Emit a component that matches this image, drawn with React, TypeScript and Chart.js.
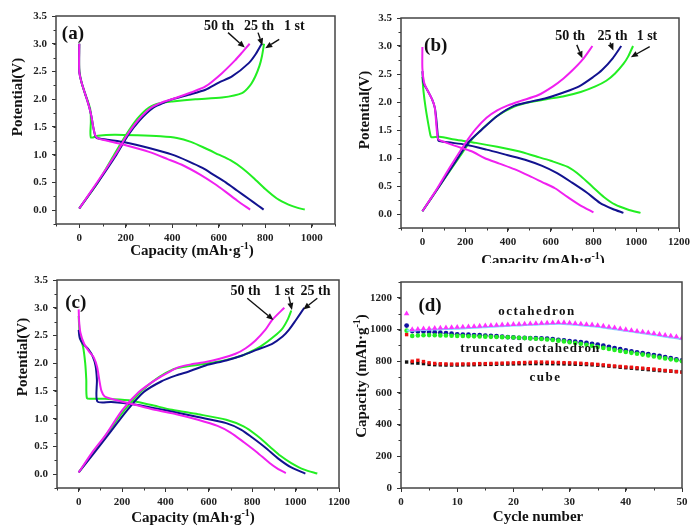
import React, { useEffect, useRef } from "react";
import { Chart, registerables } from "chart.js";
Chart.register(...registerables);

// ---------- colours ----------
const GREEN = "#22ee22";
const BLUE = "#12128f";
const MAGENTA = "#f020f0";

// ---------- panel (a) data: [capacity, potential] ----------
const aDis50 = [[0,3.0],[0,2.5],[10,2.3],[25,2.1],[40,1.9],[52,1.7],[60,1.5],[68,1.36],[78,1.3],[120,1.25],[200,1.17],[300,1.05],[380,0.92],[450,0.8],[520,0.64],[580,0.48],[630,0.33],[680,0.17],[735,0.01]];
const aDis25 = [[0,3.0],[0,2.5],[10,2.3],[25,2.1],[40,1.9],[52,1.7],[60,1.5],[68,1.35],[75,1.3],[120,1.27],[200,1.22],[300,1.12],[400,1.0],[470,0.88],[530,0.76],[580,0.63],[630,0.5],[680,0.35],[730,0.2],[770,0.08],[793,0.01]];
const aDis1 = [[0,3.0],[0,2.55],[10,2.3],[25,2.1],[38,1.95],[48,1.8],[50,1.6],[50,1.31],[80,1.34],[150,1.36],[250,1.35],[350,1.33],[420,1.3],[480,1.23],[540,1.12],[600,1.0],[650,0.9],[700,0.76],[750,0.58],[800,0.38],[850,0.21],[900,0.1],[940,0.04],[970,0.01]];
const aCha50 = [[0,0.03],[80,0.52],[160,1.03],[205,1.35],[255,1.63],[310,1.85],[360,1.95],[420,2.03],[480,2.12],[543,2.23],[614,2.47],[670,2.7],[700,2.84],[733,3.0]];
const aCha25 = [[0,0.03],[80,0.5],[160,1.0],[210,1.35],[260,1.62],[320,1.85],[370,1.95],[400,2.0],[470,2.08],[543,2.17],[600,2.3],[657,2.41],[729,2.65],[760,2.82],[785,3.0]];
const aCha1 = [[0,0.03],[80,0.5],[150,1.0],[200,1.35],[250,1.65],[300,1.85],[350,1.93],[400,1.96],[500,2.0],[614,2.03],[700,2.11],[735,2.25],[757,2.41],[775,2.6],[786,2.78],[795,3.0]];

// ---------- panel (b) data ----------
const bDis50 = [[0,2.98],[0,2.6],[8,2.35],[25,2.2],[45,2.05],[58,1.9],[65,1.6],[72,1.35],[80,1.32],[150,1.22],[230,1.12],[290,1.0],[360,0.9],[430,0.8],[500,0.68],[560,0.57],[620,0.46],[680,0.3],[740,0.15],[800,0.03]];
const bDis25 = [[0,2.55],[5,2.35],[25,2.2],[45,2.05],[58,1.9],[65,1.7],[72,1.4],[75,1.31],[120,1.28],[200,1.24],[300,1.15],[400,1.05],[480,0.97],[560,0.86],[630,0.73],[700,0.56],[770,0.38],[830,0.2],[890,0.09],[940,0.02]];
const bDis1 = [[0,2.45],[5,2.2],[15,1.9],[28,1.6],[38,1.4],[42,1.37],[80,1.38],[150,1.33],[250,1.27],[350,1.2],[450,1.12],[530,1.03],[600,0.95],[680,0.84],[740,0.68],[800,0.47],[850,0.3],[900,0.17],[960,0.08],[1020,0.02]];
const bCha50 = [[0,0.05],[60,0.4],[123,0.8],[200,1.26],[250,1.52],[300,1.72],[350,1.85],[400,1.94],[460,2.02],[540,2.12],[611,2.28],[660,2.42],[703,2.57],[750,2.76],[795,3.0]];
const bCha25 = [[0,0.05],[80,0.5],[169,1.02],[220,1.3],[276,1.5],[350,1.75],[428,1.93],[500,2.0],[581,2.07],[660,2.17],[733,2.28],[800,2.45],[840,2.57],[890,2.78],[930,3.0]];
const bCha1 = [[0,0.05],[80,0.5],[170,1.0],[225,1.3],[280,1.52],[350,1.75],[430,1.92],[505,2.0],[580,2.05],[657,2.1],[740,2.18],[809,2.28],[860,2.38],[901,2.51],[940,2.68],[962,2.81],[985,3.0]];

// ---------- panel (c) data ----------
const cDis50 = [[0,2.97],[2,2.75],[8,2.55],[25,2.35],[50,2.2],[70,2.1],[85,1.93],[95,1.7],[105,1.5],[120,1.4],[150,1.36],[250,1.26],[350,1.16],[450,1.08],[550,0.98],[640,0.87],[700,0.75],[760,0.58],[820,0.4],[880,0.2],[920,0.09],[955,0.02]];
const cDis25 = [[0,2.6],[5,2.45],[20,2.35],[45,2.25],[65,2.12],[78,1.95],[84,1.7],[86,1.31],[150,1.3],[250,1.26],[350,1.19],[450,1.11],[550,1.03],[680,0.92],[750,0.8],[800,0.66],[860,0.48],[920,0.28],[980,0.12],[1045,0.01]];
const cDis1 = [[0,2.85],[3,2.6],[8,2.45],[20,2.3],[30,2.0],[35,1.7],[38,1.37],[60,1.36],[120,1.36],[230,1.33],[330,1.25],[430,1.16],[550,1.08],[680,0.98],[760,0.86],[820,0.7],[880,0.5],[930,0.33],[980,0.2],[1040,0.08],[1100,0.01]];
const cCha50 = [[0,0.03],[60,0.38],[123,0.7],[200,1.15],[277,1.48],[354,1.7],[420,1.85],[462,1.93],[520,1.98],[585,2.02],[650,2.08],[723,2.17],[770,2.27],[815,2.41],[860,2.6],[892,2.78],[948,3.0]];
const cCha25 = [[0,0.03],[75,0.4],[150,0.78],[225,1.16],[300,1.48],[380,1.67],[450,1.78],[508,1.85],[585,1.96],[680,2.05],[754,2.14],[820,2.24],[892,2.35],[940,2.48],[969,2.6],[1000,2.77],[1040,3.0]];
const cCha1 = [[0,0.03],[70,0.4],[140,0.78],[210,1.15],[290,1.5],[370,1.75],[430,1.88],[480,1.93],[585,1.99],[680,2.06],[754,2.14],[800,2.22],[846,2.32],[900,2.48],[938,2.62],[965,2.8],[980,2.95]];

// ---------- panel (d) data ----------
const cycleNumbers = [1,2,3,4,5,6,7,8,9,10,11,12,13,14,15,16,17,18,19,20,21,22,23,24,25,26,27,28,29,30,31,32,33,34,35,36,37,38,39,40,41,42,43,44,45,46,47,48,49,50];
const octaTriangles = [1100,1000,1002,1005,1005,1008,1010,1012,1013,1015,1016,1018,1020,1022,1024,1026,1028,1030,1031,1033,1034,1036,1037,1038,1040,1042,1043,1045,1044,1042,1038,1035,1032,1030,1026,1022,1017,1012,1006,1000,995,990,985,980,975,970,965,960,955,948];
const octaLine = [995,992,995,997,999,1000,1002,1003,1004,1005,1007,1009,1011,1013,1015,1017,1019,1021,1023,1025,1026,1028,1030,1031,1033,1034,1035,1036,1035,1033,1030,1027,1024,1020,1017,1012,1007,1002,997,992,987,982,977,972,966,961,955,950,945,938];
const truncBlue = [1025,990,988,987,985,983,980,977,974,970,968,967,965,964,962,960,958,955,952,950,948,947,946,945,944,942,939,935,931,927,923,920,915,910,905,898,890,883,876,868,862,856,851,845,839,833,826,819,812,806];
const truncGreen = [993,960,962,964,965,964,963,962,961,960,959,958,957,956,955,954,953,952,951,950,948,946,944,942,940,937,934,930,925,920,915,910,904,897,890,884,877,871,865,858,853,847,842,836,830,824,818,812,806,800];
const cubeRed = [968,800,806,798,790,786,784,783,782,782,783,783,784,785,785,786,787,788,789,790,791,792,793,795,795,794,793,792,791,790,789,787,785,783,780,777,773,770,767,764,762,759,756,753,750,746,742,738,734,730];
const cubeBlack = [795,790,788,785,780,778,777,776,776,776,777,777,778,779,780,780,781,782,782,783,784,784,785,785,785,785,784,784,783,782,781,780,779,777,775,772,769,766,762,759,756,753,750,747,744,741,739,737,735,733];

// ---------- tick labels ----------
const potentialTicks = [0, 0.5, 1.0, 1.5, 2.0, 2.5, 3.0, 3.5];
const capTicksA = [0, 200, 400, 600, 800, 1000];
const capTicksBC = [0, 200, 400, 600, 800, 1000, 1200];
const cycleTicks = [0, 10, 20, 30, 40, 50];
const capacityTicksD = [0, 200, 400, 600, 800, 1000, 1200];

const FONT = "'Liberation Serif', 'Times New Roman', serif";

const toXY = (arr: number[][]) => arr.map(([x, y]) => ({ x, y }));
const cyc = (vals: number[]) => vals.map((v, i) => ({ x: cycleNumbers[i], y: v }));

const curve = (data: number[][], color: string) => ({
  data: toXY(data),
  showLine: true,
  borderColor: color,
  backgroundColor: color,
  borderWidth: 2,
  pointRadius: 0,
  tension: 0.25,
});

const decorPlugin = {
  id: "decor",
  beforeDraw(chart: any, _args: any, opts: any) {
    if (opts.cover) {
      const ctx = chart.ctx;
      const [x, y, w, h] = opts.cover;
      ctx.save();
      ctx.fillStyle = "#fff";
      ctx.fillRect(x, y, w, h);
      ctx.restore();
    }
  },
  afterDraw(chart: any, _args: any, opts: any) {
    const ctx = chart.ctx;
    const { left, top, right, bottom } = chart.chartArea;
    const xs = chart.scales.x;
    const ys = chart.scales.y;
    ctx.save();
    // minor ticks
    ctx.strokeStyle = "#333";
    ctx.lineWidth = 1;
    const mx = opts.xMinor;
    for (let v = xs.min; v <= xs.max + 1e-9; v += mx) {
      const p = Math.round(xs.getPixelForValue(v)) + 0.5;
      ctx.beginPath();
      ctx.moveTo(p, bottom);
      ctx.lineTo(p, bottom + 2.5);
      ctx.stroke();
    }
    const my = opts.yMinor;
    const y0 = Math.ceil(ys.min / my) * my;
    for (let v = y0; v <= ys.max + 1e-9; v += my) {
      const p = Math.round(ys.getPixelForValue(v)) + 0.5;
      ctx.beginPath();
      ctx.moveTo(left, p);
      ctx.lineTo(left - 2.5, p);
      ctx.stroke();
    }
    // frame
    ctx.strokeStyle = "#444";
    ctx.lineWidth = 1.5;
    ctx.strokeRect(left, top, right - left, bottom - top);

    // text annotations (data coords)
    ctx.fillStyle = "#111";
    for (const t of opts.texts || []) {
      ctx.font = `bold ${t.size}px ${FONT}`;
      ctx.textAlign = t.align || "left";
      ctx.textBaseline = "middle";
      (ctx as any).letterSpacing = t.spacing || "0px";
      ctx.fillText(t.text, xs.getPixelForValue(t.x), ys.getPixelForValue(t.y));
    }
    (ctx as any).letterSpacing = "0px";
    // arrows
    ctx.strokeStyle = "#111";
    ctx.lineWidth = 1.4;
    for (const a of opts.arrows || []) {
      const x1 = xs.getPixelForValue(a[0]), y1 = ys.getPixelForValue(a[1]);
      const x2 = xs.getPixelForValue(a[2]), y2 = ys.getPixelForValue(a[3]);
      const ang = Math.atan2(y2 - y1, x2 - x1);
      const L = 7, W = 3;
      const bx = x2 - L * Math.cos(ang), by = y2 - L * Math.sin(ang);
      ctx.beginPath();
      ctx.moveTo(x1, y1);
      ctx.lineTo(bx, by);
      ctx.stroke();
      ctx.beginPath();
      ctx.moveTo(x2, y2);
      ctx.lineTo(bx + W * Math.sin(ang), by - W * Math.cos(ang));
      ctx.lineTo(bx - W * Math.sin(ang), by + W * Math.cos(ang));
      ctx.closePath();
      ctx.fill();
    }
    // axis titles (page px; cy = baseline)
    for (const t of opts.titles || []) {
      ctx.save();
      ctx.translate(t.cx, t.cy);
      if (t.rot) ctx.rotate(-Math.PI / 2);
      const size = 15;
      const parts = t.parts as { s: string; sup?: boolean }[];
      const widths = parts.map((p) => {
        ctx.font = `bold ${p.sup ? 10 : size}px ${FONT}`;
        return ctx.measureText(p.s).width;
      });
      const total = widths.reduce((a, b) => a + b, 0);
      let x = -total / 2;
      ctx.textAlign = "left";
      ctx.textBaseline = "alphabetic";
      parts.forEach((p, i) => {
        ctx.font = `bold ${p.sup ? 10 : size}px ${FONT}`;
        ctx.fillText(p.s, x, p.sup ? -6 : 0);
        x += widths[i];
      });
      ctx.restore();
    }
    ctx.restore();
  },
};

const capTitle = [{ s: "Capacity (mAh·g" }, { s: "-1", sup: true }, { s: ")" }];

function makeScale(min: number, max: number, ticks: number[], fmt: (v: number) => string, isX: boolean) {
  return {
    type: "linear",
    min,
    max,
    afterBuildTicks: (s: any) => {
      s.ticks = ticks.map((v) => ({ value: v }));
    },
    afterFit: (s: any) => {
      if (isX) s.height = 20;
      else s.width = 40;
    },
    grid: { drawOnChartArea: false, drawTicks: true, tickLength: 4, tickColor: "#333", tickWidth: 1 },
    border: { display: false },
    ticks: {
      font: { family: FONT, size: 11, weight: "bold" },
      color: "#222",
      padding: isX ? 4 : 5,
      maxRotation: 0,
      autoSkip: false,
      callback: (v: any) => fmt(Number(v)),
    },
  };
}

const fmt1 = (v: number) => v.toFixed(1);
const fmt0 = (v: number) => String(v);

const panels: any[] = [
  {
    padding: { left: 16, top: 16, right: 359, bottom: 285 },
    datasets: [curve(aDis50, MAGENTA), curve(aCha50, MAGENTA), curve(aDis25, BLUE), curve(aCha25, BLUE), curve(aDis1, GREEN), curve(aCha1, GREEN)],
    x: makeScale(-100, 1100, capTicksA, fmt0, true),
    y: makeScale(-0.25, 3.5, potentialTicks, fmt1, false),
    decor: {
      xMinor: 100, yMinor: 0.25,
      texts: [
        { text: "(a)", x: -75, y: 3.17, size: 19 },
        { text: "50 th", x: 537, y: 3.31, size: 14 },
        { text: "25 th", x: 709, y: 3.31, size: 14 },
        { text: "1 st", x: 881, y: 3.31, size: 14 },
      ],
      arrows: [[640, 3.2, 712, 2.93], [769, 3.2, 788, 2.97], [860, 3.08, 800, 2.92]],
      titles: [
        { cx: 192, cy: 255, parts: capTitle },
        { cx: 22, cy: 97, rot: true, parts: [{ s: "Potential(V)" }] },
      ],
    },
  },
  {
    padding: { left: 361, top: 18, right: 11, bottom: 281 },
    datasets: [curve(bDis50, MAGENTA), curve(bCha50, MAGENTA), curve(bDis25, BLUE), curve(bCha25, BLUE), curve(bDis1, GREEN), curve(bCha1, GREEN)],
    x: makeScale(-100, 1200, capTicksBC, fmt0, true),
    y: makeScale(-0.25, 3.5, potentialTicks, fmt1, false),
    decor: {
      xMinor: 100, yMinor: 0.25,
      texts: [
        { text: "(b)", x: 8, y: 3.0, size: 19 },
        { text: "50 th", x: 621, y: 3.17, size: 14 },
        { text: "25 th", x: 819, y: 3.17, size: 14 },
        { text: "1 st", x: 1002, y: 3.17, size: 14 },
      ],
      arrows: [[722, 3.02, 748, 2.78], [878, 3.06, 893, 2.92], [1063, 2.99, 975, 2.8]],
      titles: [
        { cx: 543, cy: 265, parts: capTitle },
        { cx: 369, cy: 110, rot: true, parts: [{ s: "Potential(V)" }] },
      ],
    },
  },
  {
    padding: { left: 17, top: 280, right: 355, bottom: 21 },
    datasets: [curve(cDis50, MAGENTA), curve(cCha50, MAGENTA), curve(cDis25, BLUE), curve(cCha25, BLUE), curve(cDis1, GREEN), curve(cCha1, GREEN)],
    x: makeScale(-100, 1200, capTicksBC, fmt0, true),
    y: makeScale(-0.25, 3.5, potentialTicks, fmt1, false),
    decor: {
      xMinor: 100, yMinor: 0.25,
      texts: [
        { text: "(c)", x: -62, y: 3.09, size: 19 },
        { text: "50 th", x: 700, y: 3.29, size: 14 },
        { text: "1 st", x: 900, y: 3.29, size: 14 },
        { text: "25 th", x: 1023, y: 3.29, size: 14 },
      ],
      arrows: [[777, 3.17, 898, 2.78], [969, 3.2, 983, 2.96], [1100, 3.17, 1035, 2.97]],
      titles: [
        { cx: 193, cy: 522, parts: capTitle },
        { cx: 27, cy: 357, rot: true, parts: [{ s: "Potential(V)" }] },
      ],
    },
  },
  {
    padding: { left: 361, top: 282, right: 12, bottom: 21 },
    datasets: [
      { data: cyc(octaTriangles), pointStyle: "triangle", pointRadius: 3.2, borderWidth: 0, backgroundColor: "#ff30ff", borderColor: "#ff30ff", showLine: false },
      { data: cyc(octaLine), showLine: true, pointRadius: 0, borderWidth: 2, borderColor: "#7fdcff", backgroundColor: "#7fdcff", tension: 0.3 },
      { data: cyc(truncGreen), pointStyle: "circle", pointRadius: 2.3, borderWidth: 0, backgroundColor: "#22ee22", showLine: false },
      { data: cyc(truncBlue), pointStyle: "circle", pointRadius: 2.4, borderWidth: 0, backgroundColor: "#1010a0", showLine: false },
      { data: cyc(cubeRed), pointStyle: "rect", pointRadius: 2.4, borderWidth: 0, backgroundColor: "#ee1111", showLine: false },
      { data: cyc(cubeBlack), pointStyle: "rect", pointRadius: 2.4, borderWidth: 0, backgroundColor: "#111111", showLine: false },
    ],
    x: makeScale(0, 50, cycleTicks, fmt0, true),
    y: makeScale(0, 1300, capacityTicksD, fmt0, false),
    decor: {
      cover: [350, 263, 344, 266],
      xMinor: 5, yMinor: 100,
      texts: [
        { text: "(d)", x: 3.1, y: 1146, size: 19 },
        { text: "octahedron", x: 24.2, y: 1114, size: 13, align: "center", spacing: "1.5px" },
        { text: "truncated octahedron", x: 23, y: 877, size: 13, align: "center", spacing: "1px" },
        { text: "cube", x: 25.7, y: 697, size: 13, align: "center", spacing: "1.5px" },
      ],
      arrows: [],
      titles: [
        { cx: 538, cy: 521, parts: [{ s: "Cycle number" }] },
        { cx: 366, cy: 376, rot: true, parts: capTitle },
      ],
    },
  },
];

function Panel({ cfg }: { cfg: any }) {
  const ref = useRef<HTMLCanvasElement>(null);
  useEffect(() => {
    const chart = new Chart(ref.current as HTMLCanvasElement, {
      type: "scatter",
      data: { datasets: cfg.datasets },
      options: {
        animation: false,
        responsive: false,
        events: [],
        layout: { padding: cfg.padding },
        plugins: { legend: { display: false }, tooltip: { enabled: false }, decor: cfg.decor } as any,
        scales: { x: cfg.x, y: cfg.y } as any,
      },
      plugins: [decorPlugin as any],
    });
    return () => chart.destroy();
  }, []);
  return <canvas ref={ref} width={694} height={529} style={{ position: "absolute", left: 0, top: 0 }} />;
}

export default function App() {
  return (
    <div style={{ position: "absolute", left: 0, top: 0, width: 694, height: 529, background: "#fff" }}>
      {panels.map((p, i) => (
        <Panel key={i} cfg={p} />
      ))}
    </div>
  );
}
